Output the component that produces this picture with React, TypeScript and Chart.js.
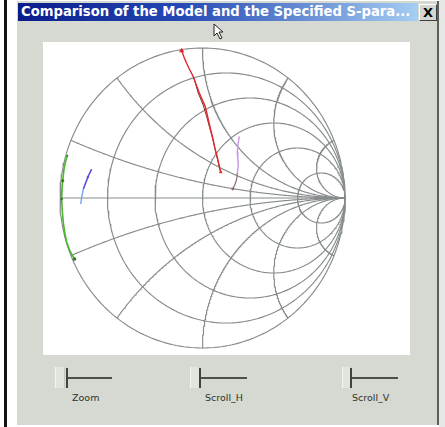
import React, { useEffect, useRef } from "react";
import { Chart, registerables } from "chart.js";
Chart.register(...registerables);

// Smith chart grid values
const RESISTANCE_VALUES = [0, 0.2, 0.5, 1, 2, 5];
const REACTANCE_VALUES = [0.2, 0.5, 1, 2, 5, -0.2, -0.5, -1, -2, -5];

// Traces (reflection coefficient: real / imaginary)
const RED_RE = [-0.146, -0.128, -0.109, -0.088, -0.067, -0.046, -0.025, -0.004, 0.018, 0.032, 0.046, 0.060, 0.074, 0.088, 0.102, 0.116, 0.128];
const RED_IM = [0.982, 0.935, 0.893, 0.852, 0.813, 0.760, 0.707, 0.660, 0.613, 0.560, 0.500, 0.445, 0.393, 0.327, 0.280, 0.220, 0.173];
const DARKRED_RE = [-0.060, -0.030, 0.005, 0.030, 0.050, 0.070, 0.095, 0.115, 0.125];
const DARKRED_IM = [0.800, 0.700, 0.620, 0.540, 0.470, 0.400, 0.300, 0.220, 0.180];
const VIOLET_RE = [0.258, 0.250, 0.244, 0.248, 0.251, 0.245];
const VIOLET_IM = [0.411, 0.360, 0.305, 0.260, 0.215, 0.170];
const GREYV_RE = [0.245, 0.240, 0.228, 0.212];
const GREYV_IM = [0.170, 0.127, 0.090, 0.060];
const GREEN_RE = [-0.949, -0.962, -0.972, -0.981, -0.986, -0.988, -0.984, -0.977, -0.965, -0.953, -0.930, -0.898];
const GREEN_IM = [0.282, 0.240, 0.193, 0.115, 0.055, -0.007, -0.087, -0.162, -0.240, -0.295, -0.353, -0.407];
const BLUE_RE = [-0.778, -0.792, -0.804, -0.818, -0.836];
const BLUE_IM = [0.193, 0.165, 0.140, 0.105, 0.060];
const LBLUE_RE = [-0.836, -0.848, -0.855];
const LBLUE_IM = [0.060, 0.005, -0.040];

const SLIDER_LABELS = ["Zoom", "Scroll_H", "Scroll_V"];
const TITLE = "Comparison of the Model and the Specified S-para...";

const zip = (re: number[], im: number[]) => re.map((x, i) => ({ x, y: im[i] }));

function resistanceCircle(r: number) {
  const c = r / (1 + r);
  const rad = 1 / (1 + r);
  const pts = [];
  const N = 240;
  for (let i = 0; i <= N; i++) {
    const t = (2 * Math.PI * i) / N;
    pts.push({ x: c + rad * Math.cos(t), y: rad * Math.sin(t) });
  }
  return pts;
}

function reactanceArc(xv: number) {
  const pts = [];
  const N = 240;
  for (let i = 0; i < N; i++) {
    const r = Math.tan((i / N) * (Math.PI / 2));
    const d = (r + 1) * (r + 1) + xv * xv;
    pts.push({ x: (r * r + xv * xv - 1) / d, y: (2 * xv) / d });
  }
  pts.push({ x: 1, y: 0 });
  return pts;
}

const GRID = "#868b8b";

function SmithChart() {
  const ref = useRef<HTMLCanvasElement>(null);
  useEffect(() => {
    const line = (data: any, color: string, width = 1.3, extra: any = {}) => ({
      data,
      showLine: true,
      borderColor: color,
      backgroundColor: color,
      borderWidth: width,
      pointRadius: 0,
      tension: 0,
      clip: false,
      ...extra,
    });
    const datasets: any[] = [
      line(zip(RED_RE, RED_IM), "#e3262a", 1.4, { pointStyle: "triangle", pointRadius: [1.6, 0, 0, 0, 0, 0, 0, 0, 0, 0, 0, 0, 0, 0, 0, 0, 0.8] }),
      line(zip(DARKRED_RE, DARKRED_IM), "#7a2a2a", 1),
      line(zip(VIOLET_RE, VIOLET_IM), "#c996ea", 1.4),
      line(zip(GREYV_RE, GREYV_IM), "#8a6a7a", 1.2, { pointRadius: [0, 0, 0, 0.8] }),
      line(zip(GREEN_RE, GREEN_IM), "#48b82c", 1.6, { pointRadius: [0.8, 0, 0, 1.3, 0, 1, 0, 0, 0, 0, 0, 1.5], pointBackgroundColor: "#2a7a1a", pointBorderColor: "#2a7a1a", pointBorderWidth: 0.5 }),
      line(zip(BLUE_RE, BLUE_IM), "#5a50d8", 1.6, { pointRadius: [0, 0, 1, 0, 0], pointBorderWidth: 0.5 }),
      line(zip(LBLUE_RE, LBLUE_IM), "#70a6f2", 1.4),
    ];
    RESISTANCE_VALUES.forEach((r) => datasets.push(line(resistanceCircle(r), GRID, 1.15)));
    REACTANCE_VALUES.forEach((x) => datasets.push(line(reactanceArc(x), GRID, 1.15)));
    datasets.push(line([{ x: -1, y: 0 }, { x: 1, y: 0 }], GRID, 1.15));

    const chart = new Chart(ref.current!, {
      type: "scatter",
      data: { datasets },
      options: {
        animation: false,
        responsive: false,
        maintainAspectRatio: false,
        devicePixelRatio: 1,
        layout: { padding: { left: 17, right: 65, top: 6, bottom: 7 } },
        scales: {
          x: { type: "linear", min: -1, max: 1, display: false },
          y: { type: "linear", min: -1, max: 1, display: false },
        },
        plugins: { legend: { display: false }, tooltip: { enabled: false } },
        events: [],
      },
    });
    return () => chart.destroy();
  }, []);
  return <canvas ref={ref} width={367} height={313} style={{ display: "block", width: 367, height: 313 }} />;
}

function Slider({ thumbX, lineX, lineEnd, label, labelX }: any) {
  return (
    <>
      <div style={{ position: "absolute", left: thumbX, top: 367, width: 8, height: 21, background: "#e2e4e0", borderLeft: "1px solid #f4f4f2", borderRight: "1px solid #c4c8c2" }} />
      <div style={{ position: "absolute", left: lineX, top: 368, width: 2, height: 20, background: "#3e443e" }} />
      <div style={{ position: "absolute", left: lineX + 2, top: 377, width: lineEnd - lineX - 2, height: 2, background: "#4a504a" }} />
      <div style={{ position: "absolute", left: labelX, top: 392, fontFamily: "'DejaVu Sans', sans-serif", fontSize: 9.5, color: "#2e322e", whiteSpace: "nowrap", lineHeight: "12px" }}>{label}</div>
    </>
  );
}

export default function App() {
  return (
    <div style={{ position: "fixed", left: 0, top: 0, width: 445, height: 427, background: "#ffffff", overflow: "hidden" }}>
      <div style={{ position: "absolute", left: 4, top: 0, width: 3, height: 427, background: "#141414" }} />
      <div style={{ position: "absolute", left: 17, top: 1, width: 420, height: 424, background: "#d5d9d1", borderRight: "2px solid #5c605c" }} />
      <div style={{ position: "absolute", left: 439, top: 0, width: 6, height: 427, background: "#e6e8e6" }} />
      <div
        style={{
          position: "absolute",
          left: 18,
          top: 3,
          width: 400,
          height: 18,
          background: "linear-gradient(to right, #0a1c8a 0%, #2448b4 40%, #a6cdf2 100%)",
        }}
      >
        <div style={{ position: "absolute", left: 3, top: 0, lineHeight: "18px", fontFamily: "'DejaVu Sans', sans-serif", fontWeight: "bold", fontSize: 13.2, color: "#ffffff", whiteSpace: "nowrap" }}>{TITLE}</div>
      </div>
      <div
        style={{
          position: "absolute",
          left: 419,
          top: 4,
          width: 16,
          height: 15,
          background: "#d4d6d0",
          borderTop: "1px solid #ffffff",
          borderLeft: "1px solid #ffffff",
          borderRight: "1px solid #404040",
          borderBottom: "1px solid #404040",
          textAlign: "center",
          lineHeight: "15px",
          fontFamily: "'DejaVu Sans', sans-serif",
          fontWeight: "bold",
          fontSize: 13,
          color: "#000",
        }}
      >
        X
      </div>
      <div style={{ position: "absolute", left: 43, top: 42, width: 367, height: 313, background: "#ffffff" }}>
        <SmithChart />
      </div>
      <Slider thumbX={55} lineX={66} lineEnd={112} label={SLIDER_LABELS[0]} labelX={72} />
      <Slider thumbX={190} lineX={199} lineEnd={247} label={SLIDER_LABELS[1]} labelX={205} />
      <Slider thumbX={342} lineX={350} lineEnd={398} label={SLIDER_LABELS[2]} labelX={352} />
      <svg style={{ position: "absolute", left: 213, top: 23 }} width={12} height={18}>
        <polygon points="1,1 1,13 4,10 7,16 9,15 6,9 10,9" fill="#ffffff" stroke="#202020" strokeWidth={1} />
      </svg>
    </div>
  );
}
